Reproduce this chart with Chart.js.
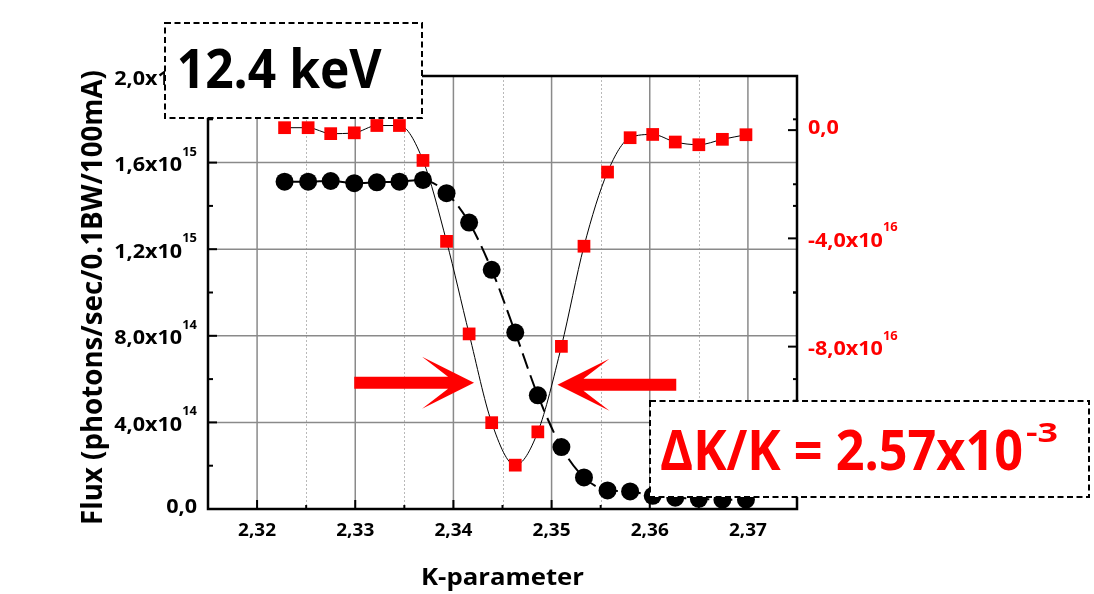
<!DOCTYPE html>
<html>
<head>
<meta charset="utf-8">
<script src="https://cdn.jsdelivr.net/npm/chart.js@4"></script>
<style>
  body { margin: 0; background: #fff; }
  #wrap { width: 1094px; height: 594px; }
</style>
</head>
<body>
<div id="wrap"><canvas id="kScan" width="1094" height="594"></canvas></div>
<script>
// K-parameter scan, 12.4 keV
const kParam = [2.3228, 2.3252, 2.3275, 2.3299, 2.3322, 2.3345, 2.3369, 2.3393, 2.3416, 2.3439, 2.3463,
  2.3486, 2.3510, 2.3533, 2.3557, 2.3580, 2.3603, 2.3626, 2.3650, 2.3674, 2.3698];
const flux = [1.512e15, 1.512e15, 1.515e15, 1.505e15, 1.509e15, 1.512e15, 1.520e15, 1.459e15, 1.323e15,
  1.105e15, 0.815e15, 0.525e15, 0.286e15, 0.146e15, 0.086e15, 0.081e15, 0.061e15, 0.052e15, 0.047e15,
  0.043e15, 0.043e15];
const fluxDeriv = [0.09e16, 0.09e16, -0.13e16, -0.10e16, 0.17e16, 0.17e16, -1.12e16, -4.11e16, -7.53e16,
  -10.81e16, -12.38e16, -11.15e16, -7.99e16, -4.29e16, -1.55e16, -0.28e16, -0.16e16, -0.44e16, -0.54e16,
  -0.34e16, -0.17e16];

const kTicks = [2.32, 2.33, 2.34, 2.35, 2.36, 2.37];
const kTickLabels = ["2,32", "2,33", "2,34", "2,35", "2,36", "2,37"];
const kMinorTicks = [2.325, 2.335, 2.345, 2.355, 2.365];
const fluxTicks = [0, 4e14, 8e14, 1.2e15, 1.6e15, 2.0e15];
const fluxTickLabels = [["0,0", ""], ["4,0x10", "14"], ["8,0x10", "14"], ["1,2x10", "15"], ["1,6x10", "15"], ["2,0x10", "15"]];
const fluxMinorTicks = [2e14, 6e14, 1.0e15, 1.4e15, 1.8e15];
const derivTicks = [0, -4e16, -8e16, -1.2e17];
const derivTickLabels = [["0,0", ""], ["-4,0x10", "16"], ["-8,0x10", "16"], ["-1,2x10", "17"]];
const derivMinorTicks = [-2e16, -6e16, -1e17];

const xTitle = "K-parameter";
const yTitle = "Flux (photons/sec/0.1BW/100mA)";
const energyLabel = "12.4 keV";
const widthLabel = ["\u0394K/K = 2.57x10", "-3"];
// arrows pointing at the FWHM edges (tip, tail in K, height on flux axis)
const arrowTips = [2.3421, 2.3506];
const arrowTails = [2.3299, 2.3627];
const arrowLevel = [0.583e15, 0.574e15];

const FONT = "'Open Sans', 'Noto Sans', sans-serif";

function fitScale(ctx, str, font, target) {
  ctx.font = font;
  return target / ctx.measureText(str).width;
}

function drawText(ctx, str, x, y, font, color, align, sx) {
  ctx.save();
  ctx.font = font;
  ctx.fillStyle = color;
  ctx.textAlign = "left";
  ctx.textBaseline = "alphabetic";
  var w = ctx.measureText(str).width * sx;
  var x0 = align === "right" ? x - w : align === "center" ? x - w / 2 : x;
  ctx.translate(x0, y);
  ctx.scale(sx, 1);
  ctx.fillText(str, 0, 0);
  ctx.restore();
  return w;
}

function line(ctx, x1, y1, x2, y2) {
  ctx.beginPath();
  ctx.moveTo(x1, y1);
  ctx.lineTo(x2, y2);
  ctx.stroke();
}

const gridPlugin = {
  id: "grid",
  beforeDatasetsDraw(chart) {
    var ctx = chart.ctx, a = chart.chartArea;
    var xs = chart.scales.x, ys = chart.scales.y;
    ctx.save();
    ctx.strokeStyle = "#b9b9b9";
    ctx.lineWidth = 1;
    ctx.setLineDash([2, 2]);
    kMinorTicks.forEach((v) => {
      var x = Math.round(xs.getPixelForValue(v)) + 0.5;
      line(ctx, x, a.top, x, a.bottom);
    });
    ctx.setLineDash([]);
    ctx.strokeStyle = "#8a8a8a";
    ctx.lineWidth = 1.5;
    kTicks.forEach((v) => {
      var x = xs.getPixelForValue(v);
      line(ctx, x, a.top, x, a.bottom);
    });
    fluxTicks.forEach((v) => {
      var y = ys.getPixelForValue(v);
      line(ctx, a.left, y, a.right, y);
    });
    ctx.restore();
  },
};

function drawArrow(ctx, tipX, tailX, y) {
  var d = tailX > tipX ? 1 : -1;
  var shaft = 6, headLen = 52, headHalf = 26, notch = 26;
  ctx.beginPath();
  ctx.moveTo(tailX, y - shaft);
  ctx.lineTo(tipX + d * notch, y - shaft);
  ctx.lineTo(tipX + d * headLen, y - headHalf);
  ctx.lineTo(tipX, y);
  ctx.lineTo(tipX + d * headLen, y + headHalf);
  ctx.lineTo(tipX + d * notch, y + shaft);
  ctx.lineTo(tailX, y + shaft);
  ctx.closePath();
  ctx.fill();
}

function dashedBox(ctx, x, y, w, h) {
  ctx.save();
  ctx.fillStyle = "#fff";
  ctx.fillRect(x, y, w, h);
  ctx.strokeStyle = "#000";
  ctx.lineWidth = 2;
  ctx.setLineDash([6, 3.5]);
  ctx.strokeRect(x, y, w, h);
  ctx.restore();
}

const overlayPlugin = {
  id: "overlay",
  afterDatasetsDraw(chart) {
    var ctx = chart.ctx, a = chart.chartArea;
    var xs = chart.scales.x, ys = chart.scales.y, ys2 = chart.scales.y2;
    ctx.save();

    // frame and ticks
    ctx.strokeStyle = "#000";
    ctx.lineWidth = 2.5;
    ctx.strokeRect(a.left, a.top, a.right - a.left, a.bottom - a.top);
    ctx.lineWidth = 2;
    kTicks.forEach((v) => { var x = xs.getPixelForValue(v); line(ctx, x, a.bottom, x, a.bottom - 9); });
    kMinorTicks.forEach((v) => { var x = xs.getPixelForValue(v); line(ctx, x, a.bottom, x, a.bottom - 4); });
    fluxTicks.forEach((v) => { var y = ys.getPixelForValue(v); line(ctx, a.left, y, a.left + 9, y); });
    fluxMinorTicks.forEach((v) => {
      var y = ys.getPixelForValue(v);
      line(ctx, a.left, y, a.left + 5, y);
      line(ctx, a.right, y, a.right - 4, y);
    });
    derivTicks.forEach((v) => { var y = ys2.getPixelForValue(v); line(ctx, a.right, y, a.right - 9, y); });
    derivMinorTicks.forEach((v) => { var y = ys2.getPixelForValue(v); line(ctx, a.right, y, a.right - 4, y); });

    // tick labels
    var tickFont = "bold 20px " + FONT, supFont = "bold 12px " + FONT;
    var sy = fitScale(ctx, "1,6x10", tickFont, 68);
    fluxTickLabels.forEach((lab, i) => {
      var y = ys.getPixelForValue(fluxTicks[i]);
      var right = a.left - 11;
      if (lab[1]) {
        ctx.font = supFont;
        var ws = ctx.measureText(lab[1]).width * sy;
        drawText(ctx, lab[1], right, y - 7, supFont, "#000", "right", sy);
        drawText(ctx, lab[0], right - ws, y + 8.5, tickFont, "#000", "right", sy);
      } else {
        drawText(ctx, lab[0], right, y + 4, tickFont, "#000", "right", sy);
      }
    });
    derivTickLabels.forEach((lab, i) => {
      var y = ys2.getPixelForValue(derivTicks[i]);
      var left = a.right + 11;
      if (lab[1]) {
        var wm = drawText(ctx, lab[0], left, y + 8.5, tickFont, "#ff0000", "left", sy);
        drawText(ctx, lab[1], left + wm, y - 7, supFont, "#ff0000", "left", sy);
      } else {
        drawText(ctx, lab[0], left, y + 4, tickFont, "#ff0000", "left", sy);
      }
    });
    var xFont = "bold 18px " + FONT;
    var sx = fitScale(ctx, "2,32", xFont, 38);
    kTickLabels.forEach((lab, i) => {
      drawText(ctx, lab, xs.getPixelForValue(kTicks[i]), a.bottom + 27, xFont, "#000", "center", sx);
    });

    // axis titles
    var xtFont = "bold 24px " + FONT;
    drawText(ctx, xTitle, (a.left + a.right) / 2, 585, xtFont, "#000", "center", fitScale(ctx, xTitle, xtFont, 163));
    var ytFont = "bold 28px " + FONT;
    ctx.save();
    ctx.translate(101.5, 297.5);
    ctx.rotate(-Math.PI / 2);
    drawText(ctx, yTitle, 0, 0, ytFont, "#000", "center", fitScale(ctx, yTitle, ytFont, 455));
    ctx.restore();

    // arrows
    ctx.fillStyle = "#ff0000";
    arrowTips.forEach((k, i) => {
      drawArrow(ctx, xs.getPixelForValue(k), xs.getPixelForValue(arrowTails[i]), ys.getPixelForValue(arrowLevel[i]));
    });

    // annotation boxes
    dashedBox(ctx, 165, 23, 257, 95);
    var eFont = "bold 53px " + FONT;
    drawText(ctx, energyLabel, 176.7, 88.3, eFont, "#000", "left", fitScale(ctx, energyLabel, eFont, 205));

    dashedBox(ctx, 650, 401, 439, 96);
    var wFont = "bold 56px " + FONT, wSup = "bold 27px " + FONT;
    var wm = drawText(ctx, widthLabel[0], 660, 470, wFont, "#ff0000", "left", fitScale(ctx, widthLabel[0], wFont, 363));
    drawText(ctx, widthLabel[1], 660 + wm + 3, 442, wSup, "#ff0000", "left", fitScale(ctx, widthLabel[1], wSup, 32));
    ctx.restore();
  },
};

function buildPoints(xs, ys) {
  var pts = [];
  for (var i = 0; i < xs.length; i++) pts.push({ x: xs[i], y: ys[i] });
  return pts;
}

var ctx = document.getElementById("kScan").getContext("2d");
new Chart(ctx, {
  type: "scatter",
  data: {
    datasets: [
      {
        label: "Flux",
        data: buildPoints(kParam, flux),
        yAxisID: "y",
        showLine: true,
        borderColor: "#000",
        borderWidth: 2,
        borderDash: [16, 7],
        cubicInterpolationMode: "monotone",
        pointStyle: "circle",
        pointRadius: 9,
        pointBackgroundColor: "#000",
        pointBorderWidth: 0,
      },
      {
        label: "dFlux/dK",
        data: buildPoints(kParam, fluxDeriv),
        yAxisID: "y2",
        showLine: true,
        borderColor: "#000",
        borderWidth: 1,
        cubicInterpolationMode: "monotone",
        pointStyle: "rect",
        pointRadius: 9,
        pointBackgroundColor: "#ff0000",
        pointBorderWidth: 0,
      },
    ],
  },
  options: {
    responsive: false,
    animation: false,
    devicePixelRatio: 1,
    layout: { padding: { left: 208, right: 297, top: 76, bottom: 85 } },
    plugins: { legend: { display: false }, tooltip: { enabled: false } },
    scales: {
      x: { type: "linear", display: false, min: 2.315, max: 2.375 },
      y: { type: "linear", display: false, min: 0, max: 2e15 },
      y2: { type: "linear", display: false, min: -1.4e17, max: 2e16 },
    },
  },
  plugins: [gridPlugin, overlayPlugin],
});
</script>
</body>
</html>
